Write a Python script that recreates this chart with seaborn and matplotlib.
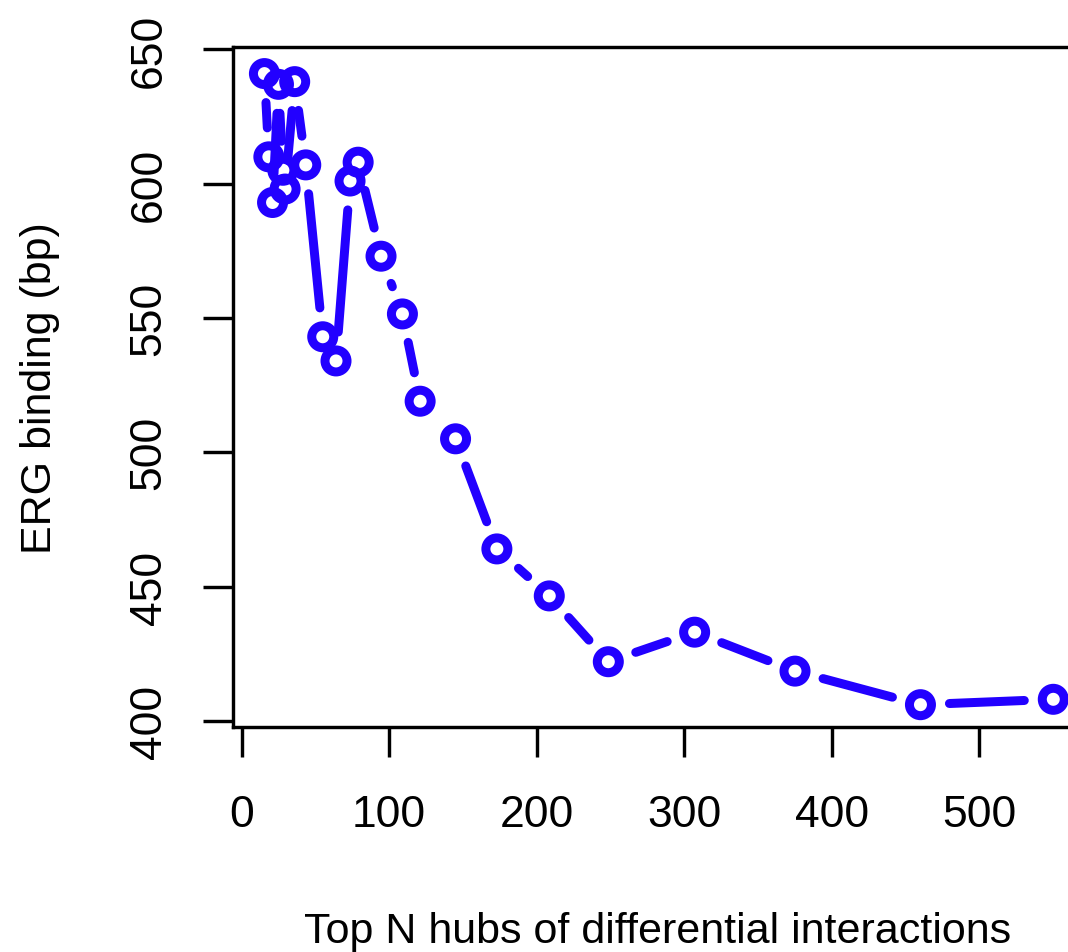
import numpy as np
import matplotlib
matplotlib.use("Agg")
import matplotlib.pyplot as plt
from matplotlib.collections import LineCollection
import pandas as pd
import seaborn as sns

# Hub count vs. mean ERG binding
top_n = [15.5, 18.5, 21, 25, 28, 29.5, 36, 43.5, 55, 64, 73.5, 79, 94.5, 109,
         121, 145, 173, 208.5, 248.5, 307, 375, 460, 550]
erg_bp = [641, 610, 593, 637, 605, 598, 638, 607, 543, 534, 601, 608, 573,
          551.5, 519, 505, 464, 446.5, 422, 433, 418.5, 406, 408]
x_ticks = [0, 100, 200, 300, 400, 500]
y_ticks = [400, 450, 500, 550, 600, 650]

df = pd.DataFrame({"top_n": top_n, "erg_bp": erg_bp})

sns.set_theme(style="white")
plt.rcParams["font.family"] = ["Liberation Sans", "DejaVu Sans"]

W, H, DPI = 1068, 953, 100
fig = plt.figure(figsize=(W / DPI, H / DPI), dpi=DPI)
left, right, top, bottom = 232.7, 1082.8, 48.0, 727.7
ax = fig.add_axes([left / W, (H - bottom) / H, (right - left) / W, (bottom - top) / H])
ax.set_xlim(-6.0, 570.0)
ax.set_ylim(397.8, 650.9)

blue = "#2200FF"

# connecting segments, shortened around each point (type "b" style)
pts = ax.transData.transform(df[["top_n", "erg_bp"]].to_numpy())
gap = 29.0
inv = ax.transData.inverted()
segs = []
for p, q in zip(pts[:-1], pts[1:]):
    d = q - p
    L = np.hypot(*d)
    if L > 2 * gap:
        u = d / L
        segs.append(inv.transform(np.array([p + u * gap, q - u * gap])))
lc = LineCollection(segs, colors=blue, linewidths=9 * 72 / DPI, capstyle="round")
ax.add_collection(lc)

# open circle markers
sns.scatterplot(data=df, x="top_n", y="erg_bp", ax=ax, marker="o",
                s=(22 * 72 / DPI) ** 2, facecolor="none", edgecolor=blue,
                linewidth=9 * 72 / DPI, zorder=3, legend=False)

for sp in ax.spines.values():
    sp.set_visible(True)
    sp.set_color("black")
    sp.set_linewidth(3.4 * 72 / DPI)

ax.set_xticks(x_ticks)
ax.set_yticks(y_ticks)
ax.set_xticklabels([str(v) for v in x_ticks])
ax.set_yticklabels([str(v) for v in y_ticks], rotation=90, va="center")
tick_len = 30 * 72 / DPI
ax.tick_params(axis="both", direction="out", length=tick_len, width=3.4 * 72 / DPI,
               color="black", labelcolor="black", labelsize=32,
               bottom=True, left=True)
ax.tick_params(axis="x", pad=37 * 72 / DPI)
ax.tick_params(axis="y", pad=33 * 72 / DPI)
ax.grid(False)

ax.set_xlabel("Top N hubs of differential interactions", fontsize=31, color="black")
ax.set_ylabel("ERG binding (bp)", fontsize=31, color="black")
ax.xaxis.set_label_coords(0.5, (bottom - 932) / (bottom - top))
ax.xaxis.label.set_va("center")
ax.yaxis.set_label_coords((40 - left) / (right - left), 0.5 - (388 - (top + bottom) / 2) / (bottom - top))
ax.yaxis.label.set_va("center")

fig.savefig("out.png", dpi=DPI, facecolor="white")
